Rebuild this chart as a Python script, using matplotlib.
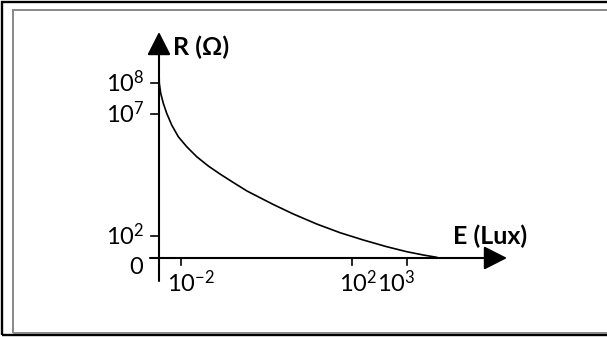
import matplotlib
matplotlib.use("Agg")
import matplotlib.pyplot as plt
from matplotlib.patches import Rectangle

plt.rcParams["font.family"] = ["Lato", "DejaVu Sans"]
plt.rcParams["mathtext.fontset"] = "custom"
plt.rcParams["mathtext.rm"] = "Lato"
plt.rcParams["mathtext.default"] = "regular"

# schematic curve R(E), positions (origin = axes crossing)
curve_x = [0, 0.3, 1.7, 4.3, 7.7, 12.7, 19.3, 27.7, 37.7, 49.3, 61, 74.3,
           88, 97.7, 114.3, 134.3, 157.7, 181, 204.3, 227.7, 247.7, 264.3, 277.7]
curve_y = [188, 174.7, 164.7, 154.7, 144.7, 133, 121.3, 111.3, 101.3, 92,
           84, 75.5, 67, 62, 53.5, 44, 34, 25.3, 18, 11.3, 6.3, 3, 0.7]

y_ticks = [22, 144, 175]
y_labels = ["$10^{2}$", "$10^{7}$", "$10^{8}$"]
x_ticks = [22, 193, 248]
x_labels = ["$10^{-2}$", "$10^{2}$", "$10^{3}$"]
x_label_pos = [32, 199, 237]

fig = plt.figure(figsize=(6.07, 3.37), dpi=100)

# double frame
fig.patches.append(Rectangle((0.004, 0.005), 1.2, 0.988, transform=fig.transFigure,
                             fill=False, edgecolor="black", linewidth=1.7))
fig.patches.append(Rectangle((0.022, 0.011), 1.2, 0.96, transform=fig.transFigure,
                             fill=False, edgecolor="#888888", linewidth=1.4))

ax = fig.add_axes([0, 0, 1, 1])
ax.set_xlim(-159, 448)
ax.set_ylim(-79, 258)
ax.axis("off")

arrow = dict(arrowstyle="-|>,head_length=0.55,head_width=0.28", color="black",
             lw=1.5, mutation_scale=26, shrinkA=0, shrinkB=0)
ax.annotate("", xy=(0, 226), xytext=(0, -23), arrowprops=arrow)
ax.annotate("", xy=(348, 0), xytext=(-9, 0), arrowprops=arrow)

ax.plot(curve_x, curve_y, color="black", lw=1.2, solid_joinstyle="round")

fs = 17
for yt, lab in zip(y_ticks, y_labels):
    ax.plot([-8, 0], [yt, yt], color="black", lw=1.2)
    ax.text(-15, yt, lab, ha="right", va="center", fontsize=fs)
ax.text(-16, 1, "0", ha="right", va="top", fontsize=fs)

for xt, xp, lab in zip(x_ticks, x_label_pos, x_labels):
    ax.plot([xt, xt], [0, -7], color="black", lw=1.2)
    ax.text(xp, -11, lab, ha="center", va="top", fontsize=fs)

ax.text(14, 211, "R (Ω)", ha="left", va="center", fontsize=18, fontweight="bold")
ax.text(294, 22, "E (Lux)", ha="left", va="center", fontsize=18, fontweight="bold")

fig.savefig("out.png", dpi=100)
